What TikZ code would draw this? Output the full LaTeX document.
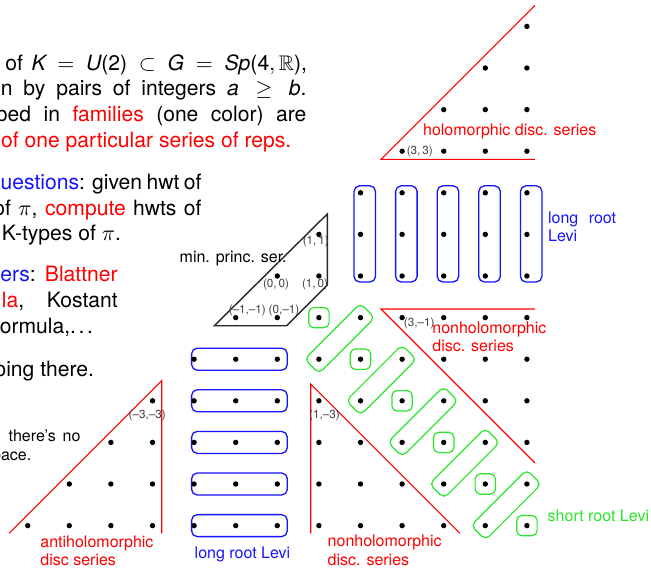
\documentclass[tikz,border=0pt]{standalone}
\usepackage{amssymb}
\usepackage{fontspec}
\setmainfont{TeX Gyre Heros}
\usetikzlibrary{calc}
\definecolor{myred}{RGB}{255,0,0}
\definecolor{myblue}{RGB}{20,20,255}
\definecolor{mygreen}{RGB}{40,230,40}
\pgfdeclarelayer{bg}
\pgfsetlayers{bg,main}
\begin{document}
\begin{tikzpicture}[x=0.5pt,y=-0.5pt,
  dot/.style={circle,fill=black,inner sep=0pt,minimum size=2.7pt},
  txt/.style={inner sep=0pt,font=\fontsize{10.55}{12.85}\selectfont},
  lab/.style={inner sep=0pt,font=\fontsize{8}{9.5}\selectfont},
  smalltxt/.style={inner sep=0pt,font=\fontsize{8}{9.5}\selectfont},
  coordlab/.style={inner sep=0pt,font=\fontsize{5.85}{7}\selectfont,text=black!75},
  redline/.style={draw=myred,line width=0.55pt},
  bbox/.style={draw=myblue,line width=0.65pt,rounded corners=2.8pt},
  gbox/.style={draw=mygreen,line width=0.6pt,rounded corners=2.6pt,minimum width=10.2pt,minimum height=10.2pt,inner sep=0pt},
]
\useasboundingbox (0,0) rectangle (651,567);
\clip (0,0) rectangle (651,567);

% ---------- text column ----------
\node[txt,anchor=base west] (t1) at (5,70) {\makebox[150.85pt][s]{of $\textit{K} = \textit{U}\mbox{(2)} \subset \textit{G} = \textit{Sp}\mbox{(4}, \mathbb{R}\mbox{)}$,}};
\node[txt,anchor=base west] (t2) at (0.5,95.7) {\makebox[152.75pt][s]{n by pairs of integers $\textit{a} \geq \textit{b}$.}};
\node[txt,anchor=base west] (t3) at (-4.4,121.4) {\makebox[155.2pt][s]{ped in \textcolor{myred}{families} (one color) are}};
\node[txt,anchor=base east,text=myred] (t4) at (291.7,147.1) {of one particular series of reps.};
\node[txt,anchor=base west] (t5) at (0.3,189.3) {\makebox[100.35pt][s]{\textcolor{myblue}{uestions}: given hwt of}};
\node[txt,anchor=base west] (t6) at (-7,215) {\makebox[104pt][s]{of $\pi$, \textcolor{myred}{compute} hwts of}};
\node[txt,anchor=base west] (t7) at (1.5,240.7) {K-types of $\pi$.};
\node[txt,anchor=base west] (t8) at (0,281.7) {\makebox[58.65pt][s]{\textcolor{myblue}{ers}: \textcolor{myred}{Blattner}}};
\node[txt,anchor=base west] (t9) at (1.5,307.4) {\makebox[57.9pt][s]{\textcolor{myred}{la}, Kostant}};
\node[txt,anchor=base west] (t10) at (-0.5,333.1) {ormula,.\kern0.12em.\kern0.12em.};
\node[txt,anchor=base east] (t11) at (94.3,376) {oing there.};
\node[smalltxt,anchor=base west] (t12) at (8.3,441.7) {\makebox[35.85pt][s]{there’s no}};
\node[smalltxt,anchor=base east] (t13) at (31.7,460.7) {pace.};

% ---------- lattice of dots ----------
\foreach \b in {-6,...,6} {
  \foreach \a in {\b,...,6} {
    \pgfmathtruncatemacro\ia{\a+6}
    \pgfmathtruncatemacro\ib{\b+6}
    \node[dot] (p\ia x\ib) at ({277.3+41.6*\a},{276-41.6*\b}) {};
  }
}

% ---------- boxes ----------
\begin{pgfonlayer}{bg}
\foreach \i in {8,...,12} {
  \draw[bbox] ($(p\i x8)+(-6.5,-7)$) rectangle ($(p\i x6)+(15,6)$);
}
\foreach \j in {0,...,4} {
  \draw[bbox] ($(p4x\j)+(-2.5,-11)$) rectangle ($(p6x\j)+(10,11)$);
}
\foreach \k in {1,...,6} {
  \pgfmathtruncatemacro\i{6+\k}
  \pgfmathtruncatemacro\j{6-\k}
  \node[gbox] (gs\k) at (p\i x\j) {};
}
\foreach \k in {1,...,5} {
  \pgfmathtruncatemacro\iu{7+\k}
  \pgfmathtruncatemacro\ju{6-\k}
  \pgfmathtruncatemacro\il{6+\k}
  \pgfmathtruncatemacro\jl{5-\k}
  \node[gbox,rotate=45,minimum width=39.4pt] (gl\k) at ($(p\iu x\ju)!0.5!(p\il x\jl)$) {};
}
\end{pgfonlayer}

% ---------- holomorphic ----------
\coordinate (h1) at (535,5.3);
\coordinate (h2) at (381,159.3);
\coordinate (h3) at (535,159.3);
\draw[redline] (h1) -- (h2) -- (h3);
\node[lab,text=myred,anchor=base west] (hl) at (422.7,135) {holomorphic disc. series};
\node[coordlab,anchor=west] (c33) at ([xshift=0.6pt]p9x9.east) {(3,\,3)};

% ---------- long root Levi (right) ----------
\node[lab,text=myblue,anchor=base west] (lr1) at (547.7,223.3) {\makebox[34pt][s]{long root}};
\node[lab,text=myblue,anchor=base west] (lr2) at (547.7,241.7) {Levi};

% ---------- min princ ser ----------
\coordinate (m1) at (214.3,325.7);
\coordinate (m2) at (327.3,214);
\coordinate (m3) at (327.3,285.1);
\coordinate (m4) at (286.7,325.7);
\draw[black!85,line width=0.7pt] (m1) -- (m2) -- (m3) -- (m4) -- cycle;
\node[lab,anchor=base west] (mps) at (179.3,262.7) {min. princ. ser.};
\node[coordlab] (c11) at (315.8,241.7) {(1,\,1)};
\node[coordlab] (c00) at (276,284.3) {(0,\,0)};
\node[coordlab] (c10) at (315,284.3) {(1,\,0)};
\node[coordlab] (cm1m1) at (247.3,310) {(–1,–1)};
\node[coordlab] (c0m1) at (284,310) {(0,–1)};

% ---------- nonholomorphic (upper) ----------
\coordinate (n1) at (535,309);
\coordinate (n2) at (381,309);
\coordinate (n3) at (535,463);
\draw[redline] (n1) -- (n2) -- (n3);
\node[coordlab,anchor=west] (c3m1) at (403.5,323.3) {(3,–1)};
\node[lab,text=myred,anchor=base west] (nh1) at (432,333.3) {nonholomorphic};
\node[lab,text=myred,anchor=base west] (nh2) at (432,351.7) {disc. series};

% ---------- nonholomorphic (lower) ----------
\coordinate (q1) at (459.9,533.3);
\coordinate (q2) at (310.7,384);
\coordinate (q3) at (310.7,533.3);
\draw[redline] (q1) -- (q2) -- (q3);
\node[coordlab] (c1m3) at (324.5,415) {(1,–3)};
\node[lab,text=myred,anchor=base west] (nl1) at (327.3,546.7) {nonholomorphic};
\node[lab,text=myred,anchor=base west] (nl2) at (327.3,565) {disc. series};

% ---------- antiholomorphic ----------
\coordinate (a1) at (161.7,533.3);
\coordinate (a2) at (161.7,380.7);
\coordinate (a3) at (9,533.3);
\draw[redline] (a1) -- (a2) -- (a3);
\node[coordlab] (cm3m3) at (147.2,415) {(–3,–3)};
\node[lab,text=myred,anchor=base west] (ah1) at (40,547.3) {antiholomorphic};
\node[lab,text=myred,anchor=base west] (ah2) at (40,565) {disc series};

% ---------- other labels ----------
\node[lab,text=myblue,anchor=base west] (lrb) at (194.3,558.3) {long root Levi};
\node[lab,text=mygreen,anchor=base west] (srl) at (547.3,521.7) {short root Levi};
\end{tikzpicture}
\end{document}
